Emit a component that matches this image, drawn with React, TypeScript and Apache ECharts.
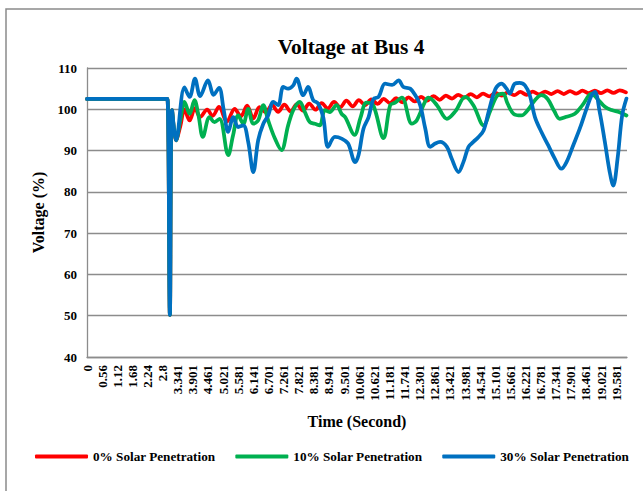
import React, { useEffect, useRef } from "react";
import * as echarts from "echarts";

// Tick labels of the time axis (one every 0.56 s slot)
const timeTickLabels = [
  "0", "0.56", "1.12", "1.68", "2.24", "2.8", "3.341", "3.901", "4.461", "5.021",
  "5.581", "6.141", "6.701", "7.261", "7.821", "8.381", "8.941", "9.501", "10.061",
  "10.621", "11.181", "11.741", "12.301", "12.861", "13.421", "13.981", "14.541",
  "15.101", "15.661", "16.221", "16.781", "17.341", "17.901", "18.461", "19.021", "19.581",
];

// 0% solar penetration
const pen0Time = [
  0, 2.91, 2.98, 3.07, 3.15, 3.3, 3.46, 3.61, 3.8, 4.0, 4.19, 4.45, 4.65, 4.89, 5.18,
  5.47, 5.7, 5.93, 6.16, 6.39, 6.62, 6.85, 7.08, 7.31, 7.54, 7.77, 8.0, 8.23, 8.46,
  8.69, 8.92, 9.15, 9.38, 9.61, 9.84, 10.07, 10.3, 10.53, 10.76, 10.99, 11.22, 11.45,
  11.68, 11.91, 12.14, 12.37, 12.6, 12.83, 13.06, 13.29, 13.52, 13.75, 13.98, 14.21,
  14.44, 14.67, 14.9, 15.13, 15.36, 15.59, 15.82, 16.05, 16.28, 16.51, 16.74, 16.97,
  17.2, 17.43, 17.66, 17.89, 18.12, 18.35, 18.58, 18.81, 19.04, 19.27, 19.5, 19.73, 19.96,
];
const pen0Voltage = [
  102.5, 102.5, 102.5, 50.2, 99.8, 92.5, 96, 100, 97.3, 100.3, 98.1, 99.9, 98.4, 100.6, 97,
  100.1, 98.3, 100.9, 97.8, 100.5, 99.3, 101, 99.4, 101.1, 99.5, 101.2, 99.7, 101.4, 99.9,
  101.5, 100.2, 101.8, 100.5, 102.1, 100.7, 102.2, 101, 102.4, 101.3, 102.5, 101.5, 102.7,
  101.7, 102.9, 101.9, 103, 102.1, 103.2, 102.3, 103.3, 102.6, 103.5, 102.8, 103.7,
  102.9, 103.8, 103.1, 104, 103.3, 104.1, 103.4, 104.2, 103.5, 104.3, 103.6, 104.3,
  103.7, 104.4, 103.7, 104.4, 103.8, 104.5, 103.9, 104.5, 103.9, 104.6, 104, 104.6, 104.1,
];

// 10% solar penetration
const pen10Time = [
  0, 2.91, 2.98, 3.07, 3.15, 3.3, 3.46, 3.61, 3.8, 3.98, 4.13, 4.29, 4.54, 4.72, 4.91,
  5.23, 5.41, 5.6, 5.79, 5.97, 6.16, 6.34, 6.53, 6.71, 6.96, 7.2, 7.45, 7.64, 7.88, 8.07,
  8.25, 8.44, 8.62, 8.81, 8.99, 9.24, 9.43, 9.57, 9.91, 10.13, 10.35, 10.6, 10.98, 11.23,
  11.41, 11.66, 12.03, 12.21, 12.53, 12.65, 12.96, 13.33, 13.64, 14.01, 14.31, 14.69,
  14.93, 15.18, 15.41, 15.57, 15.8, 16.09, 16.35, 16.59, 16.83, 17.06, 17.31, 17.51,
  17.76, 18.07, 18.35, 18.69, 18.91, 19.18, 19.43, 19.72, 19.98,
];
const pen10Voltage = [
  102.5, 102.5, 102.5, 50.2, 99.8, 92.5, 97.5, 101.8, 98.9, 102.2, 98.5, 93.3, 98.1, 96.9, 97.7,
  88.9, 93.7, 98.5, 96.5, 100.1, 96.5, 97.3, 101, 97.3, 92.9, 90.1, 96.1, 99.8, 101.8, 99.3,
  96.9, 96.5, 96.1, 99.8, 99.3, 101, 98.9, 98, 93.8, 98, 101.6, 101, 93, 101,
  101.6, 102.8, 96.5, 97.3, 102, 102.8, 101, 97.7, 99.5, 103, 101, 96.1,
  99.5, 103.2, 103.8, 101.5, 98.9, 98.5, 100, 102.2, 103.4, 102.5, 99.5, 97.7,
  98.2, 98.9, 101, 103.8, 102.5, 100.6, 99.8, 99.3, 98.5,
];

// 30% solar penetration
const pen30Time = [
  0, 2.91, 2.98, 3.07, 3.15, 3.3, 3.61, 3.8, 4.0, 4.19, 4.48, 4.69, 4.89, 5.06, 5.23,
  5.42, 5.6, 5.79, 5.97, 6.16, 6.34, 6.53, 6.71, 6.9, 7.08, 7.27, 7.45, 7.64, 7.76, 8.01,
  8.19, 8.38, 8.56, 8.75, 8.93, 9.18, 9.43, 9.67, 9.93, 10.06, 10.24, 10.43, 10.61, 10.8,
  11.04, 11.3, 11.54, 11.72, 11.97, 12.16, 12.34, 12.53, 12.71, 12.9, 13.08, 13.33, 13.51,
  13.76, 13.94, 14.13, 14.31, 14.5, 14.69, 14.87, 15.06, 15.17, 15.35, 15.54, 15.66, 15.84,
  16.02, 16.22, 16.4, 16.59, 16.83, 17.08, 17.33, 17.57, 17.76, 18.01, 18.25, 18.5, 18.69,
  18.81, 18.99, 19.18, 19.36, 19.49, 19.65, 19.82, 19.98,
];
const pen30Voltage = [
  102.5, 102.5, 102.5, 50.2, 99.8, 92.5, 105.3, 103, 107.4, 103.2, 107, 103.5, 105.2, 100, 94.5,
  98.1, 95.7, 96.1, 92.1, 84.8, 92.5, 96.5, 98.5, 101.8, 101, 105.4, 105, 105.8, 107.4, 103.4,
  105.4, 102.2, 101.4, 98.1, 90.9, 93.3, 92.9, 91.7, 87.2, 89, 95.3, 98.1, 102.5, 103,
  106.2, 105.9, 107, 105.4, 105, 103.4, 101, 95.3, 90.9, 91.7, 92.1, 90.9, 88,
  84.8, 87.2, 90.9, 92.1, 93.3, 94.9, 99.3, 103.8, 105.4, 106.2, 105, 103.8, 106.2,
  106.4, 105.8, 103.4, 98.1, 94.5, 91.3, 88, 85.6, 87.2, 91.3, 95.3, 100.1, 103.4,
  104.2, 99.3, 92.1, 84.8, 81.5, 88, 98.5, 102.6,
];

const seriesNames = ["0% Solar Penetration", "10% Solar Penetration", "30% Solar Penetration"];
const seriesColors = ["#ff0000", "#00b050", "#0070c0"];

const TICK_STEP = 0.56;
const FONT = "'Times New Roman', 'Liberation Serif', serif";
const GRID_GRAY = "#8c8c8c";

const pairs = (t: number[], v: number[]) => t.map((x, i) => [x, v[i]]);

export default function App() {
  const ref = useRef<HTMLDivElement>(null);

  useEffect(() => {
    if (!ref.current) return;
    const chart = echarts.init(ref.current, undefined, { renderer: "svg" });
    const data = [
      pairs(pen0Time, pen0Voltage),
      pairs(pen10Time, pen10Voltage),
      pairs(pen30Time, pen30Voltage),
    ];
    chart.setOption({
      animation: false,
      backgroundColor: "#ffffff",
      title: {
        text: "Voltage at Bus 4",
        left: 346,
        top: 31,
        textAlign: "center",
        textStyle: { fontFamily: FONT, fontWeight: "bold", fontSize: 21.33, color: "#000" },
      },
      grid: { left: 87, top: 68, width: 540, height: 289, containLabel: false },
      legend: {
        left: 30,
        top: 445,
        icon: "roundRect",
        itemWidth: 53,
        itemHeight: 4,
        itemGap: 20,
        data: seriesNames,
        textStyle: { fontFamily: FONT, fontWeight: "bold", fontSize: 13.2, color: "#000" },
      },
      xAxis: {
        type: "value",
        min: 0,
        max: 20,
        interval: TICK_STEP,
        name: "Time (Second)",
        nameLocation: "middle",
        nameGap: 56,
        nameTextStyle: { fontFamily: FONT, fontWeight: "bold", fontSize: 16, color: "#000" },
        axisLine: { show: true, lineStyle: { color: GRID_GRAY, width: 1.3 } },
        axisTick: { show: false },
        splitLine: { show: false },
        axisLabel: {
          rotate: 90,
          margin: 8,
          fontFamily: FONT,
          fontWeight: "bold",
          fontSize: 13,
          color: "#000",
          showMaxLabel: false,
          formatter: (v: number) => {
            const idx = Math.round(v / TICK_STEP);
            if (Math.abs(v - idx * TICK_STEP) > 1e-6) return "";
            return timeTickLabels[idx] ?? "";
          },
        },
      },
      yAxis: {
        type: "value",
        min: 40,
        max: 110,
        interval: 10,
        name: "Voltage (%)",
        nameLocation: "middle",
        nameGap: 41,
        nameTextStyle: { fontFamily: FONT, fontWeight: "bold", fontSize: 16, color: "#000" },
        axisLine: { show: true, lineStyle: { color: GRID_GRAY, width: 1.3 } },
        axisTick: { show: false },
        splitLine: { show: true, lineStyle: { color: GRID_GRAY, width: 1.3 } },
        axisLabel: {
          margin: 10,
          fontFamily: FONT,
          fontWeight: "bold",
          fontSize: 13,
          color: "#000",
        },
      },
      graphic: [
        {
          type: "rect",
          shape: { x: 6, y: 9, width: 700, height: 600 },
          style: { fill: "none", stroke: "#8a8a8a", lineWidth: 1.5 },
          silent: true,
        },
      ],
      series: seriesNames.map((name, i) => ({
        name,
        type: "line",
        data: data[i],
        smooth: 0.35,
        symbol: "none",
        showSymbol: false,
        color: seriesColors[i],
        lineStyle: { color: seriesColors[i], width: 3.75, cap: "round", join: "round" },
      })),
    });
    return () => chart.dispose();
  }, []);

  return (
    <div
      ref={ref}
      style={{ position: "absolute", left: 0, top: 0, width: 643, height: 491, background: "#fff" }}
    />
  );
}
